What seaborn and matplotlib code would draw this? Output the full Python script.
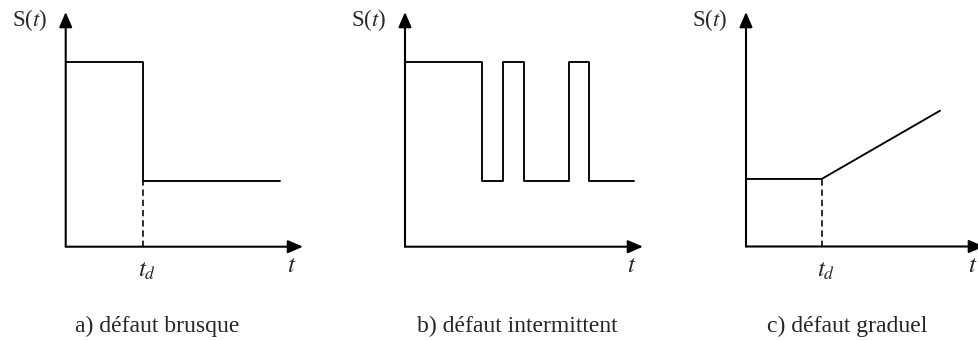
import numpy as np
import pandas as pd
import matplotlib as mpl
mpl.use("Agg")
import matplotlib.pyplot as plt
import seaborn as sns

sns.set_style("white")
plt.rcParams['font.family'] = ['Liberation Serif', 'DejaVu Serif']
plt.rcParams['mathtext.fontset'] = 'stix'

# data (arbitrary units, origin at axes corner, axes span 0..10)
t_a = [0, 3.26, 9.03]          # abrupt fault: change points
s_a = [7.87, 2.80, 2.80]
td_a = 3.26

t_b = [0, 3.25, 4.13, 5.00, 6.88, 7.74, 9.62]   # intermittent fault
s_b = [7.87, 2.80, 7.87, 2.80, 7.87, 2.80, 2.80]

t_c = [0, 3.18, 8.15]          # gradual fault
s_c = [2.88, 2.88, 5.79]
td_c = 3.18

captions = ["a) défaut brusque", "b) défaut intermittent", "c) défaut graduel"]

W, H = 979, 340
fig = plt.figure(figsize=(W / 100, H / 100), dpi=100)

# axes corners in pixels (left, bottom-y, right, top-y)
boxes = [(65.7, 246.7, 303, 12), (405, 246.7, 643, 12), (746, 246.5, 984, 12)]


def make_ax(box):
	x0, y0, x1, y1 = box
	ax = fig.add_axes([x0 / W, 1 - y0 / H, (x1 - x0) / W, (y0 - y1) / H])
	ax.set_xlim(0, 10)
	ax.set_ylim(0, 10)
	ax.axis('off')
	arr = dict(arrowstyle='-|>,head_length=0.65,head_width=0.28', color='black', lw=1.5,
			   mutation_scale=14, shrinkA=0, shrinkB=0)
	ax.annotate('', xy=(1, 0), xytext=(0, 0), xycoords='axes fraction', arrowprops=arr, annotation_clip=False)
	ax.annotate('', xy=(0, 1), xytext=(0, 0), xycoords='axes fraction', arrowprops=arr, annotation_clip=False)
	return ax


lw = 1.35
dash = (0, (4, 2.4))
ax_a = make_ax(boxes[0])
sns.lineplot(x=t_a, y=s_a, drawstyle='steps-post', estimator=None, sort=False, color='black', lw=lw, ax=ax_a)
ax_a.plot([td_a, td_a], [0, s_a[-1]], color='black', lw=1.15, ls=dash)

ax_b = make_ax(boxes[1])
sns.lineplot(x=t_b, y=s_b, drawstyle='steps-post', estimator=None, sort=False, color='black', lw=lw, ax=ax_b)

ax_c = make_ax(boxes[2])
sns.lineplot(x=t_c, y=s_c, estimator=None, sort=False, color='black', lw=lw, ax=ax_c)
ax_c.plot([td_c, td_c], [0, s_c[0]], color='black', lw=1.15, ls=dash)

fs = 17
# labels
for (x0, y0, x1, y1), cap, cx in zip(boxes, captions, [157, 517, 847]):
	fig.text((x0 - 36) / W, 1 - 20 / H, "S($t$)", fontsize=fs - 0.5, ha='center', va='center')
	fig.text((x1 - 11) / W, 1 - 266 / H, "$t$", fontsize=fs + 1, ha='center', va='center')
	fig.text(cx / W, 1 - 326 / H, cap, fontsize=fs, ha='center', va='center')

fig.text(147 / W, 1 - 271 / H, "$t_d$", fontsize=fs + 1, ha='center', va='center')
fig.text(826 / W, 1 - 271 / H, "$t_d$", fontsize=fs + 1, ha='center', va='center')

fig.savefig("out.png", dpi=100)
